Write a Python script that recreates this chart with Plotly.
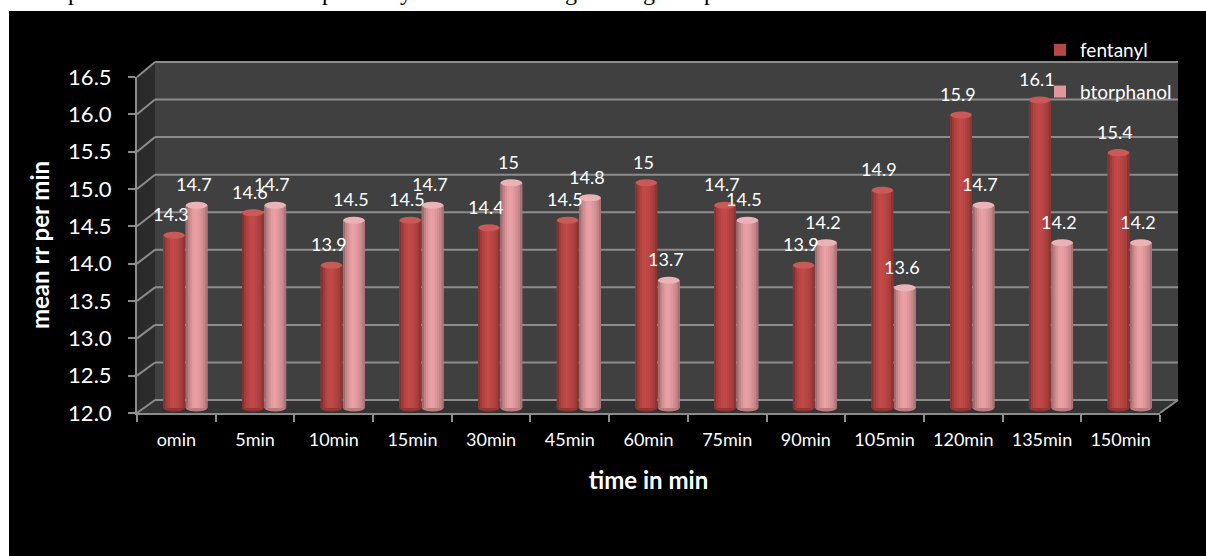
import plotly.graph_objects as go

W, H = 1206, 556

# ---- data -------------------------------------------------------------
times = ["omin", "5min", "10min", "15min", "30min", "45min", "60min",
         "75min", "90min", "105min", "120min", "135min", "150min"]
fentanyl = [14.3, 14.6, 13.9, 14.5, 14.4, 14.5, 15, 14.7, 13.9, 14.9, 15.9, 16.1, 15.4]
btorphanol = [14.7, 14.7, 14.5, 14.7, 15, 14.8, 13.7, 14.5, 14.2, 13.6, 14.7, 14.2, 14.2]
y_ticks = [12.0, 12.5, 13.0, 13.5, 14.0, 14.5, 15.0, 15.5, 16.0, 16.5]
Y_MIN, Y_MAX = 12.0, 16.5

FONT = "Lato"
GRID = "#8c8c8c"


def px(x):
    return x / W


def py(y):
    return 1 - y / H


# pseudo-3D box geometry (pixels): front plane, back wall, bar plane
FRONT = dict(x0=137, x1=1160, top=77, bot=413)
BACK = dict(x0=155, x1=1178, top=62, bot=400)
BARS = dict(x0=146, x1=1169, top=62.5, bot=415.5, lo=11.9, hi=16.6)


def front_y(v):
    return FRONT["bot"] - (v - Y_MIN) / (Y_MAX - Y_MIN) * (FRONT["bot"] - FRONT["top"])


def back_y(v):
    return BACK["bot"] - (v - Y_MIN) / (Y_MAX - Y_MIN) * (BACK["bot"] - BACK["top"])


BAR_W = 0.275
N_STRIPS = 10
# horizontal light falloff across a cylinder
SHADE = [0.72, 0.86, 0.96, 1.03, 1.06, 1.04, 1.0, 0.95, 0.88, 0.76]

series = [
    dict(name="fentanyl", values=fentanyl, rgb=(184, 70, 68), top="rgb(200,90,87)",
         bottom="rgb(150,52,50)", off=-0.28),
    dict(name="btorphanol", values=btorphanol, rgb=(222, 152, 156), top="rgb(234,180,183)",
         bottom="rgb(186,122,126)", off=0.005),
]


def shade(rgb, f):
    return "rgb(%d,%d,%d)" % tuple(min(255, round(c * f)) for c in rgb)


fig = go.Figure()
shapes = []
annotations = []

# category axis in the front plane (carries tick labels and titles)
fig.add_trace(go.Scatter(x=times, y=[None] * len(times), mode="markers",
                         showlegend=False, hoverinfo="skip", xaxis="x", yaxis="y"))

for s in series:
    heights = [v - Y_MIN for v in s["values"]]
    fig.add_trace(go.Bar(
        x=times, y=heights, base=Y_MIN, width=BAR_W, offset=s["off"],
        name=s["name"], legendgroup=s["name"], customdata=s["values"],
        hovertemplate="%{x}: %{customdata}<extra>" + s["name"] + "</extra>",
        marker=dict(color=shade(s["rgb"], 1.0), line=dict(width=0)),
        xaxis="x3", yaxis="y3",
    ))
    sw = BAR_W / N_STRIPS
    for k, f in enumerate(SHADE):
        fig.add_trace(go.Bar(
            x=times, y=heights, base=Y_MIN, width=sw * 1.05, offset=s["off"] + k * sw,
            legendgroup=s["name"], showlegend=False, hoverinfo="skip",
            marker=dict(color=shade(s["rgb"], f), line=dict(width=0)),
            xaxis="x3", yaxis="y3",
        ))
    # cylinder caps and value labels
    eh = 0.047
    for i, v in enumerate(s["values"]):
        x0 = i + s["off"]
        x1 = x0 + BAR_W
        shapes.append(dict(type="circle", xref="x3", yref="y3", x0=x0, x1=x1,
                           y0=Y_MIN - eh, y1=Y_MIN + eh, fillcolor=s["bottom"],
                           line=dict(width=0), layer="below"))
        shapes.append(dict(type="circle", xref="x3", yref="y3", x0=x0, x1=x1,
                           y0=v - eh, y1=v + eh, fillcolor=s["top"],
                           line=dict(width=0), layer="above"))
        annotations.append(dict(
            x=(x0 + x1) / 2, y=v, xref="x3", yref="y3", text=f"{v:g}",
            showarrow=False, xshift=-3, yshift=21, yanchor="middle",
            font=dict(family=FONT, size=18, color="white"),
        ))

# background, walls and floor of the 3D box
box = [
    dict(type="rect", xref="paper", yref="paper", x0=px(9), x1=1, y0=0, y1=py(11),
         fillcolor="black", line=dict(width=0), layer="below"),
    dict(type="rect", xref="paper", yref="paper", x0=px(BACK["x0"]), x1=px(BACK["x1"]),
         y0=py(BACK["bot"]), y1=py(BACK["top"]), fillcolor="#404040",
         line=dict(width=0), layer="below"),
    dict(type="path", xref="paper", yref="paper", layer="below", line=dict(width=0),
         fillcolor="#2b2b2b",
         path=f"M{px(FRONT['x0'])},{py(FRONT['top'])} L{px(BACK['x0'])},{py(BACK['top'])} "
              f"L{px(BACK['x0'])},{py(BACK['bot'])} L{px(FRONT['x0'])},{py(FRONT['bot'])} Z"),
    dict(type="path", xref="paper", yref="paper", layer="below", line=dict(width=0),
         fillcolor="#333333",
         path=f"M{px(FRONT['x0'])},{py(FRONT['bot'])} L{px(BACK['x0'])},{py(BACK['bot'])} "
              f"L{px(BACK['x1'])},{py(BACK['bot'])} L{px(FRONT['x1'])},{py(FRONT['bot'])} Z"),
    dict(type="line", xref="paper", yref="paper", layer="below",
         x0=px(FRONT["x1"]), y0=py(FRONT["bot"]), x1=px(BACK["x1"]), y1=py(BACK["bot"]),
         line=dict(color=GRID, width=2)),
]
for t in y_ticks:
    # gridline along the side wall, then across the back wall
    box.append(dict(type="line", xref="paper", yref="paper", layer="below",
                    x0=px(FRONT["x0"]), y0=py(front_y(t)),
                    x1=px(BACK["x0"]), y1=py(back_y(t)),
                    line=dict(color=GRID, width=2)))
    box.append(dict(type="line", xref="paper", yref="paper", layer="below",
                    x0=px(BACK["x0"]), y0=py(back_y(t)),
                    x1=px(BACK["x1"]), y1=py(back_y(t)),
                    line=dict(color=GRID, width=2)))

# text line of the surrounding document, cut off at the top edge
for ch, x in [("p", 66), ("p", 320), ("y", 406), ("g", 571), ("g", 649), ("p", 710)]:
    annotations.append(dict(
        x=px(x), y=1, xref="paper", yref="paper", yanchor="bottom", yshift=-7,
        text=ch, showarrow=False,
        font=dict(family="Liberation Serif", size=24, color="black"),
    ))

fig.update_layout(
    width=W, height=H,
    margin=dict(l=0, r=0, t=0, b=0, autoexpand=False),
    paper_bgcolor="white", plot_bgcolor="rgba(0,0,0,0)",
    barmode="overlay",
    shapes=box + shapes,
    annotations=annotations,
    showlegend=True,
    legend=dict(x=px(1040), y=py(31), xanchor="left", yanchor="top",
                bgcolor="rgba(0,0,0,0)", font=dict(family=FONT, size=19, color="white"),
                tracegroupgap=14, itemwidth=30),
    xaxis=dict(
        domain=[px(FRONT["x0"]), px(FRONT["x1"])], anchor="y", automargin=False,
        type="category", categoryorder="array", categoryarray=times,
        range=[-0.5, len(times) - 0.5], tickson="boundaries",
        ticks="outside", ticklen=7, tickwidth=2, tickcolor=GRID,
        showline=True, linecolor=GRID, linewidth=2, showgrid=False,
        tickfont=dict(family=FONT, size=18, color="white"), ticklabelstandoff=9,
        title=dict(text="time in min", standoff=24,
                   font=dict(family=FONT, size=24, color="white", weight="bold")),
    ),
    yaxis=dict(
        domain=[py(FRONT["bot"]), py(FRONT["top"])], anchor="x", automargin=False,
        range=[Y_MIN, Y_MAX], tickvals=y_ticks, tickformat=".1f",
        ticks="outside", ticklen=7, tickwidth=2, tickcolor=GRID,
        showline=True, linecolor=GRID, linewidth=2, showgrid=False, zeroline=False,
        tickfont=dict(family=FONT, size=22, color="white"), ticklabelstandoff=12,
        title=dict(text="mean rr per min", standoff=12,
                   font=dict(family=FONT, size=24, color="white", weight="bold")),
    ),
    xaxis3=dict(
        domain=[px(BARS["x0"]), px(BARS["x1"])], anchor="y3",
        type="category", categoryorder="array", categoryarray=times,
        range=[-0.5, len(times) - 0.5], visible=False,
    ),
    yaxis3=dict(
        domain=[py(BARS["bot"]), py(BARS["top"])], anchor="x3",
        range=[BARS["lo"], BARS["hi"]], visible=False,
    ),
)

fig.write_html("out.html")
